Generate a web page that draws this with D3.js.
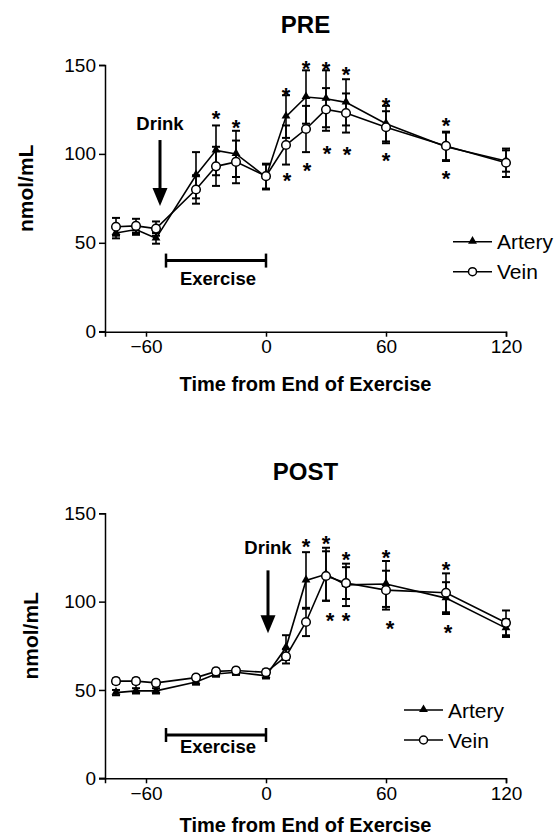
<!DOCTYPE html>
<html>
<head>
<meta charset="utf-8">
<script src="https://cdn.jsdelivr.net/npm/d3@7"></script>
<style>
  body { margin: 0; background: #fff; }
  svg { display: block; font-family: "Liberation Sans", Arial, sans-serif; }
</style>
</head>
<body>
<svg id="chart" width="557" height="838"></svg>
<script>
// sample times (min from end of exercise)
var times = [-75, -65, -55, -35, -25, -15, 0, 10, 20, 30, 40, 60, 90, 120];
var xTicks = [-60, 0, 60, 120];
var yTicks = [0, 50, 100, 150];

// PRE panel
var preArtery    = [55.5, 57.5, 52.5, 88, 102, 100, 87, 121, 132, 131, 129, 117, 104, 96];
var preArteryErr = [3, 3, 3, 13, 14, 13, 7, 12, 15, 16, 13, 10, 8, 6];
var preVein      = [59, 59.5, 58, 80, 93, 95.5, 87.5, 105, 114, 125, 123, 115, 104.5, 95];
var preVeinErr   = [5, 4, 4, 8, 11, 12, 7, 11, 13, 12, 11, 9, 8, 8];
var preStarUpT   = [-25, -15, 10, 20, 30, 40, 60, 90];
var preStarUpV   = [123, 118, 136.3, 151.3, 150.6, 147.6, 130.7, 119];
var preStarDnT   = [10.5, 20.5, 30.5, 40.5, 60, 90];
var preStarDnV   = [88, 93.8, 103.7, 102.6, 99.4, 89.4];

// POST panel
var postArtery    = [48.5, 49.5, 49.5, 54.5, 59, 60, 58, 74, 112, 115.5, 109.5, 110, 102, 85];
var postArteryErr = [1.5, 1.5, 1.5, 1.5, 1.5, 1.5, 1.5, 7, 16, 15, 12, 13, 9, 5];
var postVein      = [55, 55, 54, 57, 60.5, 61, 60, 69, 88.5, 114.5, 110.5, 106.5, 105, 88];
var postVeinErr   = [1.5, 1.5, 1.5, 1.5, 1.5, 1.5, 1.5, 4, 8, 14, 9, 11, 11, 7];
var postStarUpT   = [20, 30, 40, 60, 90];
var postStarUpV   = [134.3, 136.2, 127.2, 128.1, 121.5];
var postStarDnT   = [32, 40, 62, 91];
var postStarDnV   = [92.3, 92.3, 88, 85.7];

// annotations: drink time, exercise period
var drinkTime = [-53, 1];
var exercisePeriod = [-50, 0];

var svg = d3.select("#chart");
var FONT = "\"Liberation Sans\", Arial, sans-serif";

function zipPts(v, e) {
  return times.map(function(t, i) { return { t: t, v: v[i], e: e[i] }; });
}

var panels = [
  {
    title: "PRE", top: 65, bottom: 331.7, titleY: 33, xlabGap: 59,
    artery: zipPts(preArtery, preArteryErr), vein: zipPts(preVein, preVeinErr),
    starUp: preStarUpT.map(function(t, i) { return [t, preStarUpV[i]]; }),
    starDn: preStarDnT.map(function(t, i) { return [t, preStarDnV[i]]; }),
    drink: drinkTime[0], drinkText: 113.4, drinkFrom: 107.8, drinkTip: 70.7,
    exBar: 40, exText: 26,
    legendX: 453, legendY: 241.7, ylabX: 33
  },
  {
    title: "POST", top: 513.3, bottom: 778.3, titleY: 480, xlabGap: 54,
    artery: zipPts(postArtery, postArteryErr), vein: zipPts(postVein, postVeinErr),
    starUp: postStarUpT.map(function(t, i) { return [t, postStarUpV[i]]; }),
    starDn: postStarDnT.map(function(t, i) { return [t, postStarDnV[i]]; }),
    drink: drinkTime[1], drinkText: 126.8, drinkFrom: 117.7, drinkTip: 82.1,
    exBar: 24.5, exText: 14.2,
    legendX: 404, legendY: 710, ylabX: 38
  }
];

var triangle = d3.symbol().type(d3.symbolTriangle).size(34);

panels.forEach(function(p) {
  var x = d3.scaleLinear().domain([-80.5, 120]).range([105, 506]);
  var y = d3.scaleLinear().domain([0, 150]).range([p.bottom, p.top]);
  var g = svg.append("g");

  // title
  g.append("text")
    .attr("x", (x.range()[0] + x.range()[1]) / 2).attr("y", p.titleY)
    .attr("text-anchor", "middle")
    .style("font-size", "24px").style("font-weight", "bold")
    .text(p.title);

  // axes
  var yAxis = d3.axisLeft(y).tickValues(yTicks).tickSize(6).tickPadding(3);
  g.append("g").attr("transform", "translate(" + x.range()[0] + ",0)").call(yAxis);
  var xAxis = d3.axisBottom(x).tickValues(xTicks).tickSize(5).tickPadding(3);
  g.append("g").attr("transform", "translate(0," + p.bottom + ")").call(xAxis);
  g.selectAll(".domain").attr("stroke", "#000").attr("stroke-width", 1.5);
  g.selectAll(".tick line").attr("stroke", "#000").attr("stroke-width", 1.5);
  g.selectAll(".tick text")
    .style("font-family", FONT).style("font-size", "19px").attr("fill", "#000");
  // x axis starts a bit left of the y axis (zero tick)
  g.append("line")
    .attr("x1", x.range()[0] - 6).attr("x2", x.range()[0])
    .attr("y1", p.bottom).attr("y2", p.bottom)
    .attr("stroke", "#000").attr("stroke-width", 1.5);

  // axis titles
  g.append("text")
    .attr("x", (x.range()[0] + x.range()[1]) / 2).attr("y", p.bottom + p.xlabGap)
    .attr("text-anchor", "middle")
    .style("font-size", "20px").style("font-weight", "bold")
    .text("Time from End of Exercise");
  g.append("text")
    .attr("transform", "translate(" + p.ylabX + "," + ((p.top + p.bottom) / 2 - 10) + ") rotate(-90)")
    .attr("text-anchor", "middle")
    .style("font-size", "21px").style("font-weight", "bold")
    .text("nmol/mL");

  // series: error bars, lines, markers
  [p.vein, p.artery].forEach(function(series) {
    var eb = g.append("g").selectAll("g").data(series).enter().append("g")
      .attr("stroke", "#000").attr("stroke-width", 1.6);
    eb.append("line")
      .attr("x1", function(d) { return x(d.t); }).attr("x2", function(d) { return x(d.t); })
      .attr("y1", function(d) { return y(d.v - d.e); }).attr("y2", function(d) { return y(d.v + d.e); });
    eb.append("line")
      .attr("x1", function(d) { return x(d.t) - 4; }).attr("x2", function(d) { return x(d.t) + 4; })
      .attr("y1", function(d) { return y(d.v + d.e); }).attr("y2", function(d) { return y(d.v + d.e); })
      .attr("stroke-width", 2);
    eb.append("line")
      .attr("x1", function(d) { return x(d.t) - 4; }).attr("x2", function(d) { return x(d.t) + 4; })
      .attr("y1", function(d) { return y(d.v - d.e); }).attr("y2", function(d) { return y(d.v - d.e); })
      .attr("stroke-width", 2);
  });

  var line = d3.line().x(function(d) { return x(d.t); }).y(function(d) { return y(d.v); });
  g.append("path").datum(p.vein).attr("d", line)
    .attr("fill", "none").attr("stroke", "#000").attr("stroke-width", 1.6);
  g.append("path").datum(p.artery).attr("d", line)
    .attr("fill", "none").attr("stroke", "#000").attr("stroke-width", 1.6);

  g.append("g").selectAll("path").data(p.artery).enter().append("path")
    .attr("d", triangle)
    .attr("transform", function(d) { return "translate(" + x(d.t) + "," + (y(d.v) - 0.5) + ")"; })
    .attr("fill", "#000");
  g.append("g").selectAll("circle").data(p.vein).enter().append("circle")
    .attr("cx", function(d) { return x(d.t); }).attr("cy", function(d) { return y(d.v); })
    .attr("r", 4.3).attr("fill", "#fff").attr("stroke", "#000").attr("stroke-width", 1.5);

  // significance asterisks
  g.append("g").selectAll("text").data(p.starUp.concat(p.starDn)).enter().append("text")
    .attr("x", function(d) { return x(d[0]); }).attr("y", function(d) { return y(d[1]); })
    .attr("dy", "0.6em").attr("text-anchor", "middle")
    .style("font-size", "22px").style("font-weight", "bold")
    .text("*");

  // drink arrow
  var dx = x(p.drink);
  g.append("text").attr("x", dx).attr("y", y(p.drinkText))
    .attr("text-anchor", "middle")
    .style("font-size", "18.5px").style("font-weight", "bold")
    .text("Drink");
  g.append("line").attr("x1", dx).attr("x2", dx)
    .attr("y1", y(p.drinkFrom)).attr("y2", y(p.drinkTip) - 16)
    .attr("stroke", "#000").attr("stroke-width", 3);
  g.append("path")
    .attr("d", "M" + (dx - 7.5) + "," + (y(p.drinkTip) - 18) + "L" + (dx + 7.5) + "," + (y(p.drinkTip) - 18) +
      "L" + dx + "," + y(p.drinkTip) + "Z")
    .attr("fill", "#000");

  // exercise bar
  var ex0 = x(exercisePeriod[0]), ex1 = x(exercisePeriod[1]), ey = y(p.exBar);
  var ex = g.append("g").attr("stroke", "#000");
  ex.append("line").attr("x1", ex0).attr("x2", ex1).attr("y1", ey).attr("y2", ey).attr("stroke-width", 3);
  ex.append("line").attr("x1", ex0).attr("x2", ex0).attr("y1", ey - 7).attr("y2", ey + 7).attr("stroke-width", 2.5);
  ex.append("line").attr("x1", ex1).attr("x2", ex1).attr("y1", ey - 7).attr("y2", ey + 7).attr("stroke-width", 2.5);
  g.append("text").attr("x", (ex0 + ex1) / 2 + 2).attr("y", y(p.exText))
    .attr("text-anchor", "middle")
    .style("font-size", "18.5px").style("font-weight", "bold")
    .text("Exercise");

  // legend
  var lg = g.append("g").attr("transform", "translate(" + p.legendX + "," + p.legendY + ")");
  [["Artery", 0], ["Vein", 30]].forEach(function(item, i) {
    var row = lg.append("g").attr("transform", "translate(0," + item[1] + ")");
    row.append("line").attr("x1", 0).attr("x2", 39).attr("y1", 0).attr("y2", 0)
      .attr("stroke", "#000").attr("stroke-width", 1.5);
    if (i === 0) {
      row.append("path").attr("d", triangle).attr("transform", "translate(19.5,-0.5)").attr("fill", "#000");
    } else {
      row.append("circle").attr("cx", 19.5).attr("cy", 0).attr("r", 4)
        .attr("fill", "#fff").attr("stroke", "#000").attr("stroke-width", 1.5);
    }
    row.append("text").attr("x", 44).attr("y", 0).attr("dy", "0.36em")
      .style("font-size", "21px")
      .text(item[0]);
  });
});
</script>
</body>
</html>
